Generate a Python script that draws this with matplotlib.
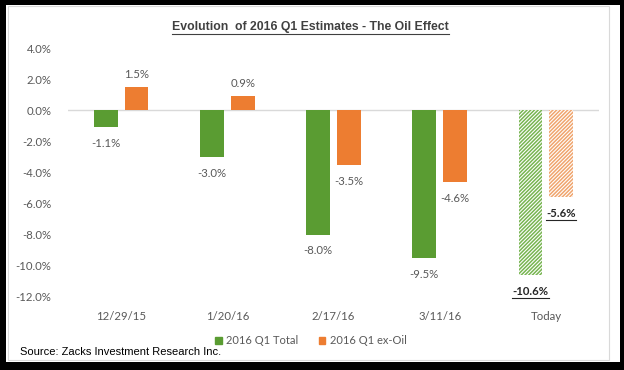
import matplotlib
matplotlib.use("Agg")
import matplotlib.pyplot as plt
from matplotlib.patches import Rectangle
from matplotlib.lines import Line2D
import numpy as np

plt.rcParams["hatch.linewidth"] = 1.1

dates = ["12/29/15", "1/20/16", "2/17/16", "3/11/16", "Today"]
q1_total = [-1.1, -3.0, -8.0, -9.5, -10.6]
q1_ex_oil = [1.5, 0.9, -3.5, -4.6, -5.6]
y_ticks = [4, 2, 0, -2, -4, -6, -8, -10, -12]

green = "#5a9c32"
orange = "#ed7d31"
gray_txt = "#595959"
tick_font = "Lato"
narrow = ["Liberation Sans Narrow", "Liberation Sans", "DejaVu Sans"]

fig = plt.figure(figsize=(6.24, 3.70), dpi=100, facecolor="black")
# white card inside the black frame, with a light gray inner border
fig.patches.append(Rectangle((6 / 624, 8 / 370), 614 / 624, 357 / 370,
                             transform=fig.transFigure, facecolor="white",
                             edgecolor="none", zorder=-2))
fig.patches.append(Rectangle((8 / 624, 10 / 370), 601 / 624, 354 / 370,
                             transform=fig.transFigure, facecolor="none",
                             edgecolor="#d9d9d9", lw=0.8, zorder=-1))

ax = fig.add_axes([68 / 624, 1 - 296.7 / 370, 531 / 624, 248.4 / 370])
ax.set_facecolor("none")

x = np.arange(len(dates))
w = 0.225
off = 0.145
n_solid = 4

for i in x:
    if i < n_solid:
        ax.bar(i - off, q1_total[i], w, color=green, zorder=3)
        ax.bar(i + off, q1_ex_oil[i], w, color=orange, zorder=3)
    else:
        ax.bar(i - off, q1_total[i], w, facecolor="white", edgecolor="#78b552",
               hatch="/////////", lw=0, zorder=3)
        ax.bar(i + off, q1_ex_oil[i], w, facecolor="white", edgecolor="#f0a56e",
               hatch="/////////", lw=0, zorder=3)

ax.axhline(0, color="#d9d9d9", lw=1, zorder=2)
ax.set_xlim(-0.5, len(dates) - 0.5)
ax.set_ylim(-12, 4)
ax.set_yticks(y_ticks)
ax.set_yticklabels([f"{v:.1f}%" for v in y_ticks], fontsize=8.2,
                   color=gray_txt, family=tick_font)
ax.set_xticks(x)
ax.set_xticklabels(dates, fontsize=8.2, color=gray_txt, family=tick_font)
ax.tick_params(length=0, pad=12)
ax.tick_params(axis="x", pad=10)
for s in ax.spines.values():
    s.set_visible(False)

underline_these = []
for i in x:
    for val, xpos in ((q1_total[i], i - off), (q1_ex_oil[i], i + off)):
        dy = 9.4 if val >= 0 else -11.8
        bold = i >= n_solid
        t = ax.annotate(f"{val:.1f}%", (xpos, val), xytext=(0, dy),
                        textcoords="offset points", ha="center", va="center",
                        fontsize=8.2, family=tick_font,
                        color="#262626" if bold else gray_txt,
                        fontweight="bold" if bold else "normal")
        if bold:
            underline_these.append((t, "#262626"))

title = fig.text(310.5 / 624, 1 - 27 / 370, "Evolution  of 2016 Q1 Estimates - The Oil Effect",
                 ha="center", va="center", fontsize=8.8, fontweight="bold",
                 family=narrow, color="#404040")
underline_these.append((title, "#404040"))

fig.text(20 / 624, 1 - 352 / 370, "Source: Zacks Investment Research Inc.",
         ha="left", va="center", fontsize=8, family=narrow, color="black")

handles = [Rectangle((0, 0), 1, 1, color=green), Rectangle((0, 0), 1, 1, color=orange)]
leg = fig.legend(handles, ["2016 Q1 Total", "2016 Q1 ex-Oil"], ncol=2,
                 loc="center", bbox_to_anchor=(311 / 624, 1 - 341 / 370),
                 frameon=False, handlelength=0.6, handleheight=0.6,
                 handletextpad=0.4, columnspacing=1.8, prop={"family": tick_font, "size": 8})
for t in leg.get_texts():
    t.set_color(gray_txt)

# underline texts
fig.canvas.draw()
r = fig.canvas.get_renderer()
for t, c in underline_these:
    bb = t.get_window_extent(r).transformed(fig.transFigure.inverted())
    yl = bb.y0 - 0.002
    fig.lines.append(Line2D([bb.x0, bb.x1], [yl, yl], transform=fig.transFigure,
                            color=c, lw=0.8))

fig.savefig("out.png", dpi=100, facecolor="black")
